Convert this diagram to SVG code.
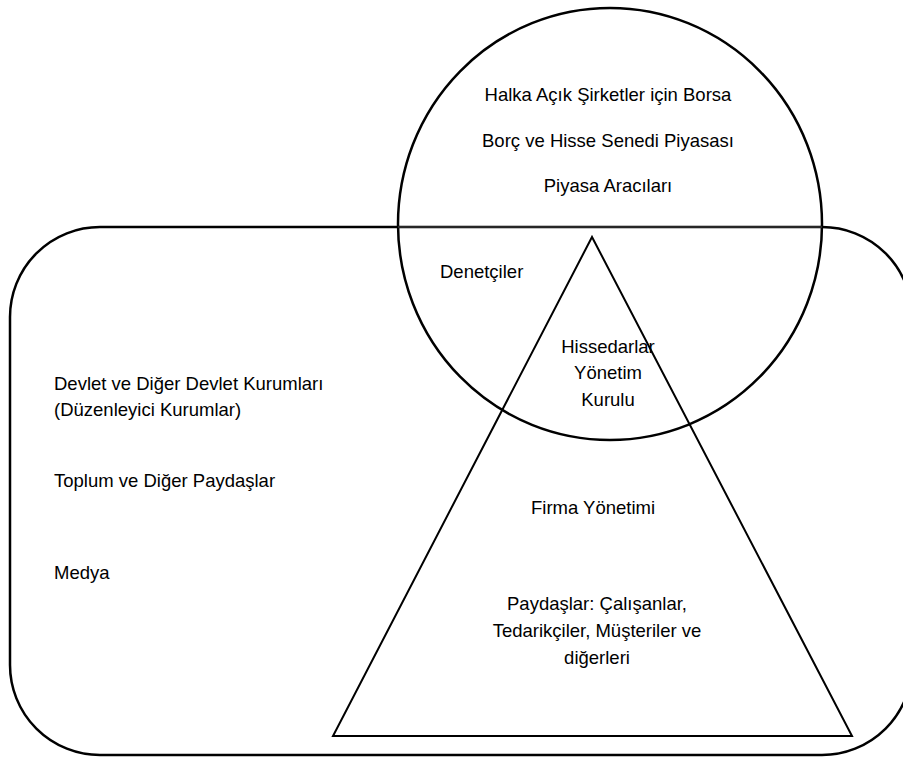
<svg xmlns="http://www.w3.org/2000/svg" width="903" height="760" viewBox="0 0 903 760">
<style>
.sh{fill:none;stroke:#000}
.t{font-family:"Liberation Sans",Arial,sans-serif;font-size:18.5px;fill:#000}
.c{text-anchor:middle}
</style>
<rect width="903" height="760" fill="#fff"/>
<g id="environment">
<rect class="sh" x="10" y="227" width="902" height="528" rx="90" ry="90" stroke-width="2.5"/>
<text class="t" x="54" y="390">Devlet ve Diğer Devlet Kurumları</text>
<text class="t" x="54" y="416">(Düzenleyici Kurumlar)</text>
<text class="t" x="54" y="487">Toplum ve Diğer Paydaşlar</text>
<text class="t" x="54" y="579">Medya</text>
</g>
<g id="market">
<ellipse class="sh" cx="610" cy="224" rx="212" ry="216" stroke-width="2.5"/>
<line x1="398" y1="227" x2="822" y2="227" stroke="#333" stroke-width="1.5"/>
<text class="t c" x="608" y="101">Halka Açık Şirketler için Borsa</text>
<text class="t c" x="608" y="147">Borç ve Hisse Senedi Piyasası</text>
<text class="t c" x="608" y="192">Piyasa Aracıları</text>
<text class="t" x="440" y="278">Denetçiler</text>
</g>
<g id="firm">
<polygon class="sh" points="592,237 333,736 852,736" stroke-width="2"/>
<text class="t c" x="608" y="353">Hissedarlar</text>
<text class="t c" x="608" y="379">Yönetim</text>
<text class="t c" x="608" y="406">Kurulu</text>
<text class="t c" x="593" y="514">Firma Yönetimi</text>
<text class="t c" x="597" y="610">Paydaşlar: Çalışanlar,</text>
<text class="t c" x="597" y="637">Tedarikçiler, Müşteriler ve</text>
<text class="t c" x="597" y="664">diğerleri</text>
</g>
</svg>
